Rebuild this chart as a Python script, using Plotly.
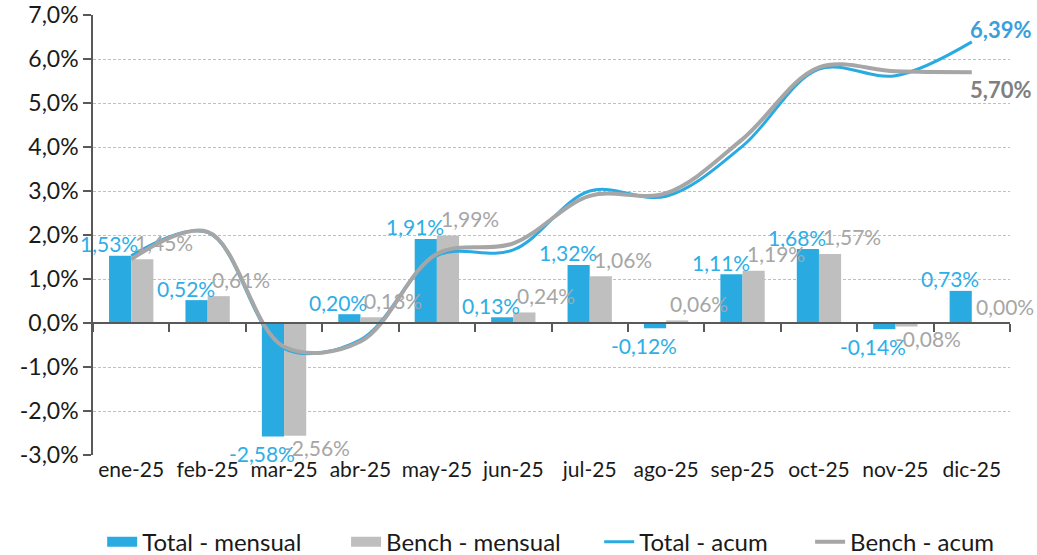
import plotly.graph_objects as go

months = ["ene-25", "feb-25", "mar-25", "abr-25", "may-25", "jun-25",
          "jul-25", "ago-25", "sep-25", "oct-25", "nov-25", "dic-25"]
total_mensual = [1.53, 0.52, -2.58, 0.20, 1.91, 0.13, 1.32, -0.12, 1.11, 1.68, -0.14, 0.73]
bench_mensual = [1.45, 0.61, -2.56, 0.13, 1.99, 0.24, 1.06, 0.06, 1.19, 1.57, -0.08, 0.00]
total_acum = [1.53, 2.06, -0.58, -0.38, 1.53, 1.66, 3.00, 2.88, 4.02, 5.77, 5.62, 6.39]
bench_acum = [1.45, 2.07, -0.54, -0.42, 1.57, 1.81, 2.89, 2.95, 4.18, 5.81, 5.72, 5.70]
y_ticks = [-3, -2, -1, 0, 1, 2, 3, 4, 5, 6, 7]

BLUE = "#29ABE2"
GRAY = "#BFBFBF"
GRAY_LINE = "#A6A6A6"
BLUE_TXT = "#2DAEE6"
GRAY_TXT = "#A6A6A6"
FONT = "Lato"
AXIS = "#595959"
TXT = "#1A1A1A"


def pct(v, d=2):
    return f"{v:.{d}f}%".replace(".", ",")


fig = go.Figure()
fig.add_trace(go.Bar(x=months, y=total_mensual, name="Total - mensual", showlegend=False,
                     marker=dict(color=BLUE, line=dict(width=0)), hoverinfo="skip"))
fig.add_trace(go.Bar(x=months, y=bench_mensual, name="Bench - mensual", showlegend=False,
                     marker=dict(color=GRAY, line=dict(width=0)), hoverinfo="skip"))
fig.add_trace(go.Scatter(x=months, y=total_acum, name="Total - acum", mode="lines",
                         legend="legend3",
                         line=dict(color=BLUE, width=3, shape="spline", smoothing=1.0),
                         hoverinfo="skip"))
fig.add_trace(go.Scatter(x=months, y=bench_acum, name="Bench - acum", mode="lines",
                         legend="legend4",
                         line=dict(color=GRAY_LINE, width=4, shape="spline", smoothing=1.0),
                         hoverinfo="skip"))
# legend swatches for the bar series (wide rectangles like the reference)
fig.add_trace(go.Scatter(x=[None], y=[None], name="Total - mensual", mode="lines",
                         legend="legend", line=dict(color=BLUE, width=12), hoverinfo="skip"))
fig.add_trace(go.Scatter(x=[None], y=[None], name="Bench - mensual", mode="lines",
                         legend="legend2", line=dict(color=GRAY, width=12), hoverinfo="skip"))
# helper trace so the zero-line category axis is drawn
fig.add_trace(go.Scatter(x=[None], y=[None], xaxis="x2", showlegend=False,
                         hoverinfo="skip", mode="markers"))

annotations = []
for m, v in zip(months, total_mensual):
    annotations.append(dict(x=m, y=v, xref="x", yref="y", text=pct(v), showarrow=False,
                            font=dict(family=FONT, size=21, color=BLUE_TXT),
                            xshift=-22, yshift=12 if v >= 0 else -17, yanchor="middle"))
for m, v in zip(months, bench_mensual):
    annotations.append(dict(x=m, y=v, xref="x", yref="y", text=pct(v), showarrow=False,
                            font=dict(family=FONT, size=21, color=GRAY_TXT),
                            xshift=33, yshift=17 if v >= 0 else -12, yanchor="middle"))
annotations.append(dict(x=months[-1], y=total_acum[-1], xref="x", yref="y",
                        text="<b>" + pct(total_acum[-1]) + "</b>", showarrow=False,
                        font=dict(family=FONT, size=22, color="#3C9FDC"),
                        xshift=29, yshift=12, yanchor="middle"))
annotations.append(dict(x=months[-1], y=bench_acum[-1], xref="x", yref="y",
                        text="<b>" + pct(bench_acum[-1]) + "</b>", showarrow=False,
                        font=dict(family=FONT, size=22, color="#808080"),
                        xshift=29, yshift=-17, yanchor="middle"))

n = len(months)
leg_common = dict(orientation="h", y=-0.198, yanchor="middle", xanchor="left",
                  font=dict(family=FONT, size=24, color=TXT), bgcolor="rgba(0,0,0,0)")
fig.update_layout(
    width=1037, height=555,
    margin=dict(l=93, r=27, t=15, b=100, autoexpand=False),
    paper_bgcolor="white", plot_bgcolor="white",
    barmode="group", bargap=0.42, bargroupgap=0,
    font=dict(family=FONT, color=TXT),
    showlegend=True,
    legend=dict(x=0.010, **leg_common),
    legend2=dict(x=0.276, **leg_common),
    legend3=dict(x=0.552, **leg_common),
    legend4=dict(x=0.782, **leg_common),
    xaxis=dict(type="category", range=[-0.5, n - 0.5], showgrid=False, showline=False,
               ticks="", zeroline=False, automargin=False,
               tickfont=dict(family=FONT, size=21, color=TXT)),
    xaxis2=dict(overlaying="x", anchor="free", position=0.3, range=[-0.5, n - 0.5],
                tickvals=[i - 0.5 for i in range(n + 1)], showticklabels=False,
                ticks="outside", ticklen=8, tickcolor=AXIS, tickwidth=1.5,
                showline=True, linecolor=AXIS, linewidth=1.5, showgrid=False,
                zeroline=False),
    yaxis=dict(range=[-3, 7], tickvals=y_ticks, ticktext=[pct(v, 1) for v in y_ticks],
               showgrid=True, gridcolor="#BFBFBF", gridwidth=1, griddash="3px,2px",
               zeroline=False, showline=True, linecolor=AXIS, linewidth=1.5,
               ticks="outside", ticklen=8, tickcolor=AXIS, tickwidth=1.5, automargin=False,
               ticklabeloverflow="allow",
               tickfont=dict(family=FONT, size=23, color=TXT)),
    annotations=annotations,
)

# remove the browser's default 8px page margin so the figure sits at the window origin
fig.write_html("out.html", config={"displayModeBar": False},
               post_script="document.body.style.margin='0px';")
